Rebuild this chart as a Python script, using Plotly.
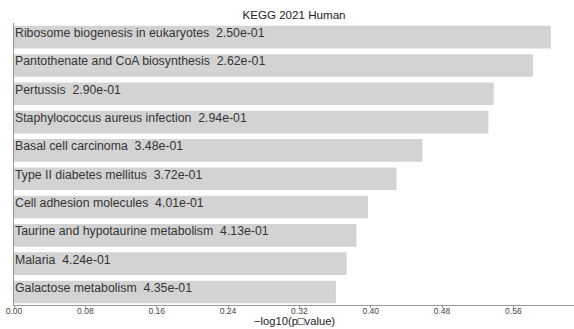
import plotly.graph_objects as go

terms = [
    "Ribosome biogenesis in eukaryotes",
    "Pantothenate and CoA biosynthesis",
    "Pertussis",
    "Staphylococcus aureus infection",
    "Basal cell carcinoma",
    "Type II diabetes mellitus",
    "Cell adhesion molecules",
    "Taurine and hypotaurine metabolism",
    "Malaria",
    "Galactose metabolism",
]
pvals = ["2.50e-01", "2.62e-01", "2.90e-01", "2.94e-01", "3.48e-01",
         "3.72e-01", "4.01e-01", "4.13e-01", "4.24e-01", "4.35e-01"]
neglog = [0.602, 0.582, 0.538, 0.532, 0.458, 0.429, 0.397, 0.384, 0.373, 0.361]
xticks = [0.00, 0.08, 0.16, 0.24, 0.32, 0.40, 0.48, 0.56]

FONT = "Liberation Sans, Arial, sans-serif"

fig = go.Figure()
fig.add_trace(go.Bar(
    x=neglog, y=list(range(len(terms))), orientation="h",
    marker=dict(color="#d3d3d3", line=dict(width=0)),
    width=0.8, hoverinfo="skip", showlegend=False,
))
for i, (t, p) in enumerate(zip(terms, pvals)):
    fig.add_annotation(
        x=0, y=i, xref="x", yref="y", text=f"{t}  {p}",
        showarrow=False, xanchor="left", yanchor="bottom",
        xshift=-1, yshift=-5,
        font=dict(family=FONT, size=12.3, color="#333333"),
    )

fig.add_annotation(
    x=0.5, y=0, xref="paper", yref="paper", yshift=-16,
    text="\u2212log10(p\u25a1value)", showarrow=False,
    xanchor="center", yanchor="middle",
    font=dict(family=FONT, size=11.2, color="#222222"),
)

fig.update_layout(
    width=574, height=329,
    margin=dict(l=14, r=0, t=23, b=24),
    plot_bgcolor="white", paper_bgcolor="white",
    bargap=0.2,
    title=dict(text="KEGG 2021 Human", x=(14 + 560 / 2) / 574, xanchor="center",
               y=1 - 15 / 329, yanchor="middle",
               font=dict(family=FONT, size=11.6, color="#222222")),
    font=dict(family=FONT, size=9, color="#333333"),
)
fig.update_xaxes(
    automargin=False,
    range=[0, 0.628], tickvals=xticks, ticktext=[f"{v:.2f}" for v in xticks],
    showgrid=False, zeroline=False, showline=True, linecolor="#999999", linewidth=1,
    ticks="outside", ticklen=2, tickcolor="#999999",
    ticklabeloverflow="allow", ticklabelstandoff=-4,
    tickfont=dict(family=FONT, size=8.5, color="#444444"),
)
fig.update_yaxes(
    automargin=False,
    range=[9.46, -0.5], showticklabels=False, showgrid=False, zeroline=False,
    showline=True, linecolor="#999999", linewidth=1, ticks="",
)

fig.write_html("out.html", config={"displayModeBar": False},
               post_script="document.body.style.margin='0px';")
